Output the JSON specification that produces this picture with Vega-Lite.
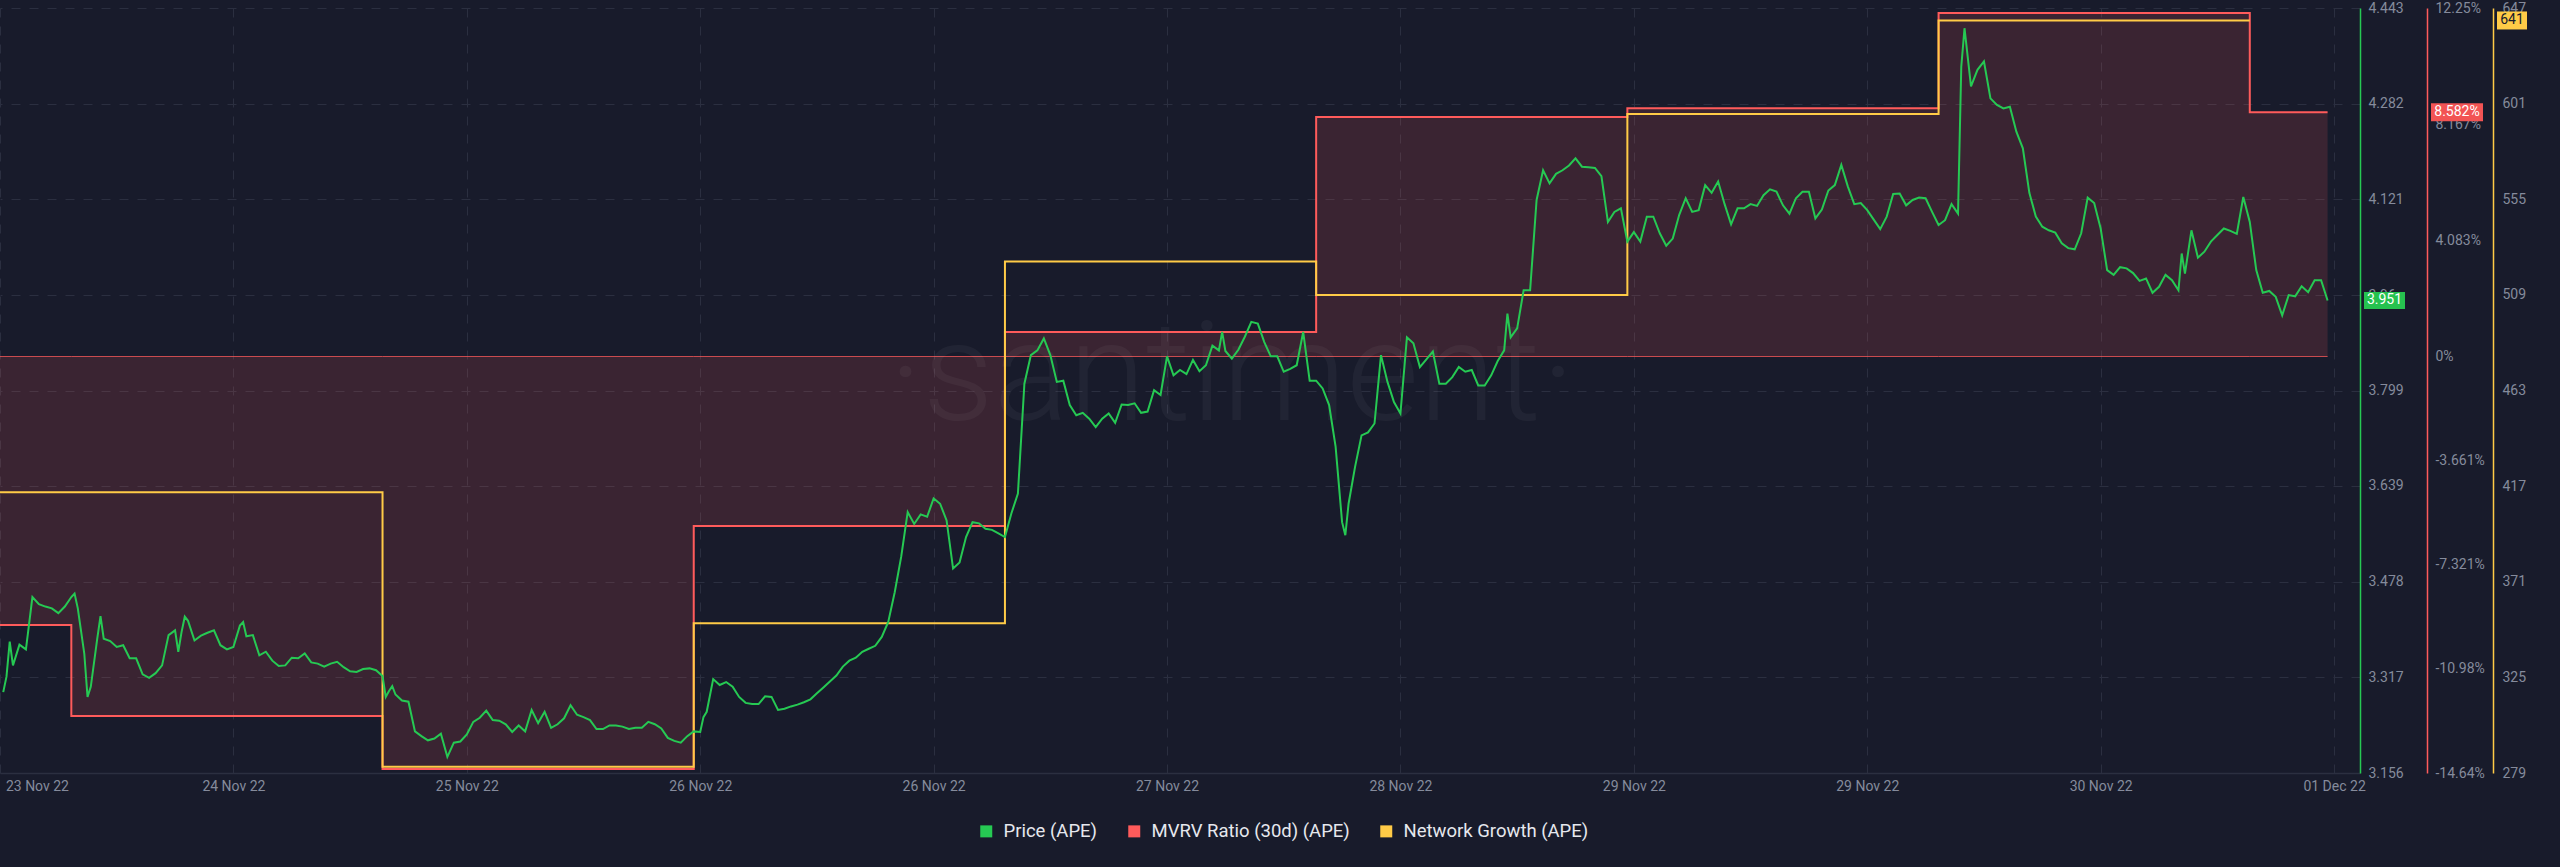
{
"$schema": "https://vega.github.io/schema/vega-lite/v6.json",
"width": 2360,
"height": 765,
"autosize": {"type": "none"},
"padding": {"left": 0, "top": 8, "right": 200, "bottom": 94},
"background": "#181b2b",
"config": {
  "view": {"stroke": null},
  "font": "Roboto",
  "axis": {"labelFont": "Roboto", "labelColor": "#858b9c", "labelFontSize": 14, "ticks": false}
},
"datasets": {
"mvrv": [
{"t":"2022-11-23T18:30Z","v":-9.44},{"t":"2022-11-24T00:00Z","v":-12.64},{"t":"2022-11-25T00:00Z","v":-14.5},{"t":"2022-11-26T00:00Z","v":-5.96},{"t":"2022-11-27T00:00Z","v":0.86},{"t":"2022-11-28T00:00Z","v":8.42},{"t":"2022-11-29T00:00Z","v":8.73},{"t":"2022-11-30T00:00Z","v":12.07},{"t":"2022-12-01T00:00Z","v":8.582},{"t":"2022-12-01T06:00Z","v":8.582}
],
"network": [
{"t":"2022-11-23T18:30Z","v":414},{"t":"2022-11-25T00:00Z","v":282},{"t":"2022-11-26T00:00Z","v":351},{"t":"2022-11-27T00:00Z","v":525},{"t":"2022-11-28T00:00Z","v":509},{"t":"2022-11-29T00:00Z","v":596},{"t":"2022-11-30T00:00Z","v":641},{"t":"2022-12-01T00:00Z","v":641}
],
"price": [
{"t":"2022-11-23T18:45Z","p":3.292},{"t":"2022-11-23T19:00Z","p":3.318},{"t":"2022-11-23T19:15Z","p":3.377},{"t":"2022-11-23T19:30Z","p":3.337},{"t":"2022-11-23T20:00Z","p":3.372},{"t":"2022-11-23T20:30Z","p":3.364},{"t":"2022-11-23T21:00Z","p":3.452},{"t":"2022-11-23T21:30Z","p":3.440},{"t":"2022-11-23T22:00Z","p":3.436},{"t":"2022-11-23T22:30Z","p":3.433},{"t":"2022-11-23T23:00Z","p":3.425},{"t":"2022-11-23T23:30Z","p":3.436},
{"t":"2022-11-24T00:00Z","p":3.452},{"t":"2022-11-24T00:15Z","p":3.458},{"t":"2022-11-24T00:30Z","p":3.433},{"t":"2022-11-24T01:00Z","p":3.357},{"t":"2022-11-24T01:15Z","p":3.284},{"t":"2022-11-24T01:30Z","p":3.301},{"t":"2022-11-24T02:00Z","p":3.382},{"t":"2022-11-24T02:15Z","p":3.420},{"t":"2022-11-24T02:30Z","p":3.382},{"t":"2022-11-24T03:00Z","p":3.378},{"t":"2022-11-24T03:30Z","p":3.368},{"t":"2022-11-24T04:00Z","p":3.371},{"t":"2022-11-24T04:30Z","p":3.349},{"t":"2022-11-24T05:00Z","p":3.349},{"t":"2022-11-24T05:30Z","p":3.322},{"t":"2022-11-24T06:00Z","p":3.316},{"t":"2022-11-24T06:30Z","p":3.324},{"t":"2022-11-24T07:00Z","p":3.337},{"t":"2022-11-24T07:30Z","p":3.388},{"t":"2022-11-24T08:00Z","p":3.396},{"t":"2022-11-24T08:15Z","p":3.360},{"t":"2022-11-24T08:30Z","p":3.393},{"t":"2022-11-24T08:45Z","p":3.419},{"t":"2022-11-24T09:00Z","p":3.412},{"t":"2022-11-24T09:30Z","p":3.379},{"t":"2022-11-24T10:00Z","p":3.387},{"t":"2022-11-24T10:30Z","p":3.392},{"t":"2022-11-24T11:00Z","p":3.396},{"t":"2022-11-24T11:30Z","p":3.371},{"t":"2022-11-24T12:00Z","p":3.364},{"t":"2022-11-24T12:30Z","p":3.368},{"t":"2022-11-24T13:00Z","p":3.404},{"t":"2022-11-24T13:15Z","p":3.410},{"t":"2022-11-24T13:30Z","p":3.386},{"t":"2022-11-24T14:00Z","p":3.388},{"t":"2022-11-24T14:30Z","p":3.354},{"t":"2022-11-24T15:00Z","p":3.360},{"t":"2022-11-24T15:30Z","p":3.345},{"t":"2022-11-24T16:00Z","p":3.336},{"t":"2022-11-24T16:30Z","p":3.337},{"t":"2022-11-24T17:00Z","p":3.350},{"t":"2022-11-24T17:30Z","p":3.349},{"t":"2022-11-24T18:00Z","p":3.357},{"t":"2022-11-24T18:30Z","p":3.342},{"t":"2022-11-24T19:00Z","p":3.340},{"t":"2022-11-24T19:30Z","p":3.335},{"t":"2022-11-24T20:00Z","p":3.340},{"t":"2022-11-24T20:30Z","p":3.343},{"t":"2022-11-24T21:00Z","p":3.334},{"t":"2022-11-24T21:30Z","p":3.327},{"t":"2022-11-24T22:00Z","p":3.326},{"t":"2022-11-24T22:30Z","p":3.331},{"t":"2022-11-24T23:00Z","p":3.332},{"t":"2022-11-24T23:30Z","p":3.329},
{"t":"2022-11-25T00:00Z","p":3.319},{"t":"2022-11-25T00:15Z","p":3.284},{"t":"2022-11-25T00:30Z","p":3.294},{"t":"2022-11-25T00:45Z","p":3.302},{"t":"2022-11-25T01:00Z","p":3.288},{"t":"2022-11-25T01:30Z","p":3.278},{"t":"2022-11-25T02:00Z","p":3.276},{"t":"2022-11-25T02:30Z","p":3.226},{"t":"2022-11-25T03:00Z","p":3.218},{"t":"2022-11-25T03:30Z","p":3.211},{"t":"2022-11-25T04:00Z","p":3.214},{"t":"2022-11-25T04:30Z","p":3.222},{"t":"2022-11-25T05:00Z","p":3.183},{"t":"2022-11-25T05:30Z","p":3.207},{"t":"2022-11-25T06:00Z","p":3.209},{"t":"2022-11-25T06:30Z","p":3.221},{"t":"2022-11-25T07:00Z","p":3.242},{"t":"2022-11-25T07:30Z","p":3.249},{"t":"2022-11-25T08:00Z","p":3.261},{"t":"2022-11-25T08:30Z","p":3.245},{"t":"2022-11-25T09:00Z","p":3.244},{"t":"2022-11-25T09:30Z","p":3.238},{"t":"2022-11-25T10:00Z","p":3.225},{"t":"2022-11-25T10:30Z","p":3.236},{"t":"2022-11-25T11:00Z","p":3.226},{"t":"2022-11-25T11:30Z","p":3.262},{"t":"2022-11-25T12:00Z","p":3.240},{"t":"2022-11-25T12:30Z","p":3.259},{"t":"2022-11-25T13:00Z","p":3.232},{"t":"2022-11-25T13:30Z","p":3.238},{"t":"2022-11-25T14:00Z","p":3.248},{"t":"2022-11-25T14:30Z","p":3.270},{"t":"2022-11-25T15:00Z","p":3.254},{"t":"2022-11-25T15:30Z","p":3.250},{"t":"2022-11-25T16:00Z","p":3.245},{"t":"2022-11-25T16:30Z","p":3.230},{"t":"2022-11-25T17:00Z","p":3.230},{"t":"2022-11-25T17:30Z","p":3.236},{"t":"2022-11-25T18:00Z","p":3.236},{"t":"2022-11-25T18:30Z","p":3.234},{"t":"2022-11-25T19:00Z","p":3.230},{"t":"2022-11-25T19:30Z","p":3.232},{"t":"2022-11-25T20:00Z","p":3.232},{"t":"2022-11-25T20:30Z","p":3.242},{"t":"2022-11-25T21:00Z","p":3.238},{"t":"2022-11-25T21:30Z","p":3.231},{"t":"2022-11-25T22:00Z","p":3.215},{"t":"2022-11-25T22:30Z","p":3.210},{"t":"2022-11-25T23:00Z","p":3.207},{"t":"2022-11-25T23:30Z","p":3.218},
{"t":"2022-11-26T00:00Z","p":3.226},{"t":"2022-11-26T00:30Z","p":3.225},{"t":"2022-11-26T00:45Z","p":3.250},{"t":"2022-11-26T01:00Z","p":3.259},{"t":"2022-11-26T01:30Z","p":3.314},{"t":"2022-11-26T02:00Z","p":3.304},{"t":"2022-11-26T02:30Z","p":3.309},{"t":"2022-11-26T03:00Z","p":3.301},{"t":"2022-11-26T03:30Z","p":3.284},{"t":"2022-11-26T04:00Z","p":3.274},{"t":"2022-11-26T04:30Z","p":3.272},{"t":"2022-11-26T05:00Z","p":3.272},{"t":"2022-11-26T05:30Z","p":3.285},{"t":"2022-11-26T06:00Z","p":3.284},{"t":"2022-11-26T06:30Z","p":3.262},{"t":"2022-11-26T07:00Z","p":3.264},{"t":"2022-11-26T07:30Z","p":3.268},{"t":"2022-11-26T08:00Z","p":3.271},{"t":"2022-11-26T08:30Z","p":3.275},{"t":"2022-11-26T09:00Z","p":3.28},{"t":"2022-11-26T09:30Z","p":3.29},{"t":"2022-11-26T10:00Z","p":3.30},{"t":"2022-11-26T10:30Z","p":3.31},{"t":"2022-11-26T11:00Z","p":3.32},{"t":"2022-11-26T11:30Z","p":3.335},{"t":"2022-11-26T12:00Z","p":3.345},{"t":"2022-11-26T12:30Z","p":3.35},{"t":"2022-11-26T13:00Z","p":3.36},{"t":"2022-11-26T13:30Z","p":3.365},{"t":"2022-11-26T14:00Z","p":3.37},{"t":"2022-11-26T14:30Z","p":3.385},{"t":"2022-11-26T15:00Z","p":3.41},{"t":"2022-11-26T15:30Z","p":3.46},{"t":"2022-11-26T16:00Z","p":3.52},{"t":"2022-11-26T16:30Z","p":3.595},{"t":"2022-11-26T17:00Z","p":3.575},{"t":"2022-11-26T17:30Z","p":3.591},{"t":"2022-11-26T18:00Z","p":3.587},{"t":"2022-11-26T18:30Z","p":3.618},{"t":"2022-11-26T19:00Z","p":3.609},{"t":"2022-11-26T19:30Z","p":3.581},{"t":"2022-11-26T20:00Z","p":3.50},{"t":"2022-11-26T20:30Z","p":3.51},{"t":"2022-11-26T21:00Z","p":3.553},{"t":"2022-11-26T21:30Z","p":3.578},{"t":"2022-11-26T22:00Z","p":3.576},{"t":"2022-11-26T22:30Z","p":3.567},{"t":"2022-11-26T23:00Z","p":3.565},{"t":"2022-11-26T23:30Z","p":3.559},
{"t":"2022-11-27T00:00Z","p":3.553},{"t":"2022-11-27T00:30Z","p":3.593},{"t":"2022-11-27T01:00Z","p":3.626},{"t":"2022-11-27T01:30Z","p":3.811},{"t":"2022-11-27T02:00Z","p":3.859},{"t":"2022-11-27T02:30Z","p":3.867},{"t":"2022-11-27T03:00Z","p":3.887},{"t":"2022-11-27T03:30Z","p":3.859},{"t":"2022-11-27T04:00Z","p":3.814},{"t":"2022-11-27T04:30Z","p":3.816},{"t":"2022-11-27T05:00Z","p":3.775},{"t":"2022-11-27T05:30Z","p":3.758},{"t":"2022-11-27T06:00Z","p":3.762},{"t":"2022-11-27T06:30Z","p":3.752},{"t":"2022-11-27T07:00Z","p":3.738},{"t":"2022-11-27T07:30Z","p":3.752},{"t":"2022-11-27T08:00Z","p":3.761},{"t":"2022-11-27T08:30Z","p":3.745},{"t":"2022-11-27T09:00Z","p":3.776},{"t":"2022-11-27T09:30Z","p":3.775},{"t":"2022-11-27T10:00Z","p":3.778},{"t":"2022-11-27T10:30Z","p":3.762},{"t":"2022-11-27T11:00Z","p":3.764},{"t":"2022-11-27T11:30Z","p":3.800},{"t":"2022-11-27T12:00Z","p":3.792},{"t":"2022-11-27T12:30Z","p":3.857},{"t":"2022-11-27T13:00Z","p":3.825},{"t":"2022-11-27T13:30Z","p":3.834},{"t":"2022-11-27T14:00Z","p":3.827},{"t":"2022-11-27T14:30Z","p":3.851},{"t":"2022-11-27T15:00Z","p":3.832},{"t":"2022-11-27T15:30Z","p":3.842},{"t":"2022-11-27T16:00Z","p":3.875},{"t":"2022-11-27T16:30Z","p":3.867},{"t":"2022-11-27T16:45Z","p":3.898},{"t":"2022-11-27T17:00Z","p":3.866},{"t":"2022-11-27T17:30Z","p":3.853},{"t":"2022-11-27T18:00Z","p":3.868},{"t":"2022-11-27T18:30Z","p":3.890},{"t":"2022-11-27T19:00Z","p":3.915},{"t":"2022-11-27T19:30Z","p":3.912},{"t":"2022-11-27T20:00Z","p":3.881},{"t":"2022-11-27T20:30Z","p":3.857},{"t":"2022-11-27T21:00Z","p":3.857},{"t":"2022-11-27T21:30Z","p":3.831},{"t":"2022-11-27T22:00Z","p":3.836},{"t":"2022-11-27T22:30Z","p":3.842},{"t":"2022-11-27T23:00Z","p":3.898},{"t":"2022-11-27T23:30Z","p":3.816},
{"t":"2022-11-28T00:00Z","p":3.816},{"t":"2022-11-28T00:30Z","p":3.803},{"t":"2022-11-28T01:00Z","p":3.775},{"t":"2022-11-28T01:30Z","p":3.705},{"t":"2022-11-28T02:00Z","p":3.578},{"t":"2022-11-28T02:15Z","p":3.556},{"t":"2022-11-28T02:30Z","p":3.609},{"t":"2022-11-28T03:00Z","p":3.671},{"t":"2022-11-28T03:30Z","p":3.724},{"t":"2022-11-28T04:00Z","p":3.729},{"t":"2022-11-28T04:30Z","p":3.744},{"t":"2022-11-28T05:00Z","p":3.859},{"t":"2022-11-28T05:30Z","p":3.814},{"t":"2022-11-28T06:00Z","p":3.780},{"t":"2022-11-28T06:30Z","p":3.761},{"t":"2022-11-28T07:00Z","p":3.889},{"t":"2022-11-28T07:30Z","p":3.879},{"t":"2022-11-28T08:00Z","p":3.839},{"t":"2022-11-28T08:30Z","p":3.852},{"t":"2022-11-28T09:00Z","p":3.865},{"t":"2022-11-28T09:30Z","p":3.811},{"t":"2022-11-28T10:00Z","p":3.811},{"t":"2022-11-28T10:30Z","p":3.822},{"t":"2022-11-28T11:00Z","p":3.839},{"t":"2022-11-28T11:30Z","p":3.831},{"t":"2022-11-28T12:00Z","p":3.834},{"t":"2022-11-28T12:30Z","p":3.808},{"t":"2022-11-28T13:00Z","p":3.808},{"t":"2022-11-28T13:30Z","p":3.825},{"t":"2022-11-28T14:00Z","p":3.849},{"t":"2022-11-28T14:30Z","p":3.867},{"t":"2022-11-28T14:45Z","p":3.929},{"t":"2022-11-28T15:00Z","p":3.889},{"t":"2022-11-28T15:30Z","p":3.904},{"t":"2022-11-28T16:00Z","p":3.968},{"t":"2022-11-28T16:30Z","p":3.968},{"t":"2022-11-28T17:00Z","p":4.120},{"t":"2022-11-28T17:30Z","p":4.170},{"t":"2022-11-28T18:00Z","p":4.148},{"t":"2022-11-28T18:30Z","p":4.164},{"t":"2022-11-28T19:00Z","p":4.170},{"t":"2022-11-28T19:30Z","p":4.178},{"t":"2022-11-28T20:00Z","p":4.190},{"t":"2022-11-28T20:30Z","p":4.176},{"t":"2022-11-28T21:00Z","p":4.175},{"t":"2022-11-28T21:30Z","p":4.174},{"t":"2022-11-28T22:00Z","p":4.160},{"t":"2022-11-28T22:30Z","p":4.083},{"t":"2022-11-28T23:00Z","p":4.100},{"t":"2022-11-28T23:30Z","p":4.106},
{"t":"2022-11-29T00:00Z","p":4.050},{"t":"2022-11-29T00:30Z","p":4.066},{"t":"2022-11-29T01:00Z","p":4.050},{"t":"2022-11-29T01:30Z","p":4.092},{"t":"2022-11-29T02:00Z","p":4.092},{"t":"2022-11-29T02:30Z","p":4.064},{"t":"2022-11-29T03:00Z","p":4.043},{"t":"2022-11-29T03:30Z","p":4.055},{"t":"2022-11-29T04:00Z","p":4.095},{"t":"2022-11-29T04:30Z","p":4.123},{"t":"2022-11-29T05:00Z","p":4.100},{"t":"2022-11-29T05:30Z","p":4.103},{"t":"2022-11-29T06:00Z","p":4.145},{"t":"2022-11-29T06:30Z","p":4.132},{"t":"2022-11-29T07:00Z","p":4.151},{"t":"2022-11-29T07:30Z","p":4.113},{"t":"2022-11-29T08:00Z","p":4.079},{"t":"2022-11-29T08:30Z","p":4.106},{"t":"2022-11-29T09:00Z","p":4.106},{"t":"2022-11-29T09:30Z","p":4.113},{"t":"2022-11-29T10:00Z","p":4.110},{"t":"2022-11-29T10:30Z","p":4.128},{"t":"2022-11-29T11:00Z","p":4.138},{"t":"2022-11-29T11:30Z","p":4.134},{"t":"2022-11-29T12:00Z","p":4.111},{"t":"2022-11-29T12:30Z","p":4.097},{"t":"2022-11-29T13:00Z","p":4.123},{"t":"2022-11-29T13:30Z","p":4.134},{"t":"2022-11-29T14:00Z","p":4.134},{"t":"2022-11-29T14:30Z","p":4.089},{"t":"2022-11-29T15:00Z","p":4.104},{"t":"2022-11-29T15:30Z","p":4.136},{"t":"2022-11-29T16:00Z","p":4.145},{"t":"2022-11-29T16:30Z","p":4.179},{"t":"2022-11-29T17:00Z","p":4.143},{"t":"2022-11-29T17:30Z","p":4.113},{"t":"2022-11-29T18:00Z","p":4.115},{"t":"2022-11-29T18:30Z","p":4.103},{"t":"2022-11-29T19:00Z","p":4.087},{"t":"2022-11-29T19:30Z","p":4.071},{"t":"2022-11-29T20:00Z","p":4.092},{"t":"2022-11-29T20:30Z","p":4.130},{"t":"2022-11-29T21:00Z","p":4.131},{"t":"2022-11-29T21:30Z","p":4.111},{"t":"2022-11-29T22:00Z","p":4.120},{"t":"2022-11-29T22:30Z","p":4.124},{"t":"2022-11-29T23:00Z","p":4.123},{"t":"2022-11-29T23:30Z","p":4.100},
{"t":"2022-11-30T00:00Z","p":4.078},{"t":"2022-11-30T00:30Z","p":4.086},{"t":"2022-11-30T01:00Z","p":4.113},{"t":"2022-11-30T01:30Z","p":4.097},{"t":"2022-11-30T01:45Z","p":4.344},{"t":"2022-11-30T02:00Z","p":4.409},{"t":"2022-11-30T02:30Z","p":4.311},{"t":"2022-11-30T03:00Z","p":4.339},{"t":"2022-11-30T03:30Z","p":4.353},{"t":"2022-11-30T04:00Z","p":4.291},{"t":"2022-11-30T04:30Z","p":4.280},{"t":"2022-11-30T05:00Z","p":4.274},{"t":"2022-11-30T05:30Z","p":4.277},{"t":"2022-11-30T06:00Z","p":4.235},{"t":"2022-11-30T06:30Z","p":4.207},{"t":"2022-11-30T07:00Z","p":4.132},{"t":"2022-11-30T07:30Z","p":4.092},{"t":"2022-11-30T08:00Z","p":4.075},{"t":"2022-11-30T08:30Z","p":4.069},{"t":"2022-11-30T09:00Z","p":4.065},{"t":"2022-11-30T09:30Z","p":4.047},{"t":"2022-11-30T10:00Z","p":4.039},{"t":"2022-11-30T10:30Z","p":4.037},{"t":"2022-11-30T11:00Z","p":4.064},{"t":"2022-11-30T11:30Z","p":4.124},{"t":"2022-11-30T12:00Z","p":4.115},{"t":"2022-11-30T12:30Z","p":4.072},{"t":"2022-11-30T13:00Z","p":4.002},{"t":"2022-11-30T13:30Z","p":3.994},{"t":"2022-11-30T14:00Z","p":4.007},{"t":"2022-11-30T14:30Z","p":4.005},{"t":"2022-11-30T15:00Z","p":3.997},{"t":"2022-11-30T15:30Z","p":3.984},{"t":"2022-11-30T16:00Z","p":3.988},{"t":"2022-11-30T16:30Z","p":3.964},{"t":"2022-11-30T17:00Z","p":3.974},{"t":"2022-11-30T17:30Z","p":3.994},{"t":"2022-11-30T18:00Z","p":3.985},{"t":"2022-11-30T18:30Z","p":3.968},{"t":"2022-11-30T18:45Z","p":4.030},{"t":"2022-11-30T19:00Z","p":3.996},{"t":"2022-11-30T19:30Z","p":4.069},{"t":"2022-11-30T20:00Z","p":4.023},{"t":"2022-11-30T20:30Z","p":4.033},{"t":"2022-11-30T21:00Z","p":4.050},{"t":"2022-11-30T21:30Z","p":4.061},{"t":"2022-11-30T22:00Z","p":4.072},{"t":"2022-11-30T22:30Z","p":4.068},{"t":"2022-11-30T23:00Z","p":4.063},{"t":"2022-11-30T23:30Z","p":4.125},
{"t":"2022-12-01T00:00Z","p":4.083},{"t":"2022-12-01T00:30Z","p":4.002},{"t":"2022-12-01T01:00Z","p":3.964},{"t":"2022-12-01T01:30Z","p":3.967},{"t":"2022-12-01T02:00Z","p":3.957},{"t":"2022-12-01T02:30Z","p":3.926},{"t":"2022-12-01T03:00Z","p":3.960},{"t":"2022-12-01T03:30Z","p":3.958},{"t":"2022-12-01T04:00Z","p":3.975},{"t":"2022-12-01T04:30Z","p":3.965},{"t":"2022-12-01T05:00Z","p":3.985},{"t":"2022-12-01T05:30Z","p":3.985},{"t":"2022-12-01T06:00Z","p":3.951}
],
"wm": [{"label": "·santiment·"}]
},
"layer": [
{
  "data": {"name": "mvrv"},
  "mark": {"type": "area", "interpolate": "step-after", "color": "#FF5B5B", "opacity": 0.15},
  "encoding": {
    "x": {"field": "t", "type": "temporal",
      "scale": {"type": "utc", "domain": [{"year": 2022, "month": 11, "date": 23, "hours": 18, "minutes": 30, "utc": true}, {"year": 2022, "month": 12, "date": 1, "hours": 8, "minutes": 30, "utc": true}]},
      "axis": {"orient": "bottom", "title": null, "labels": false, "ticks": false, "grid": true, "gridColor": "#2b2f40", "gridDash": [9, 9], "gridWidth": 1, "domain": true, "domainColor": "#2b2f40", "domainWidth": 1.5,
        "values": [
          {"year": 2022, "month": 11, "date": 23, "hours": 18, "minutes": 30, "utc": true},
          {"year": 2022, "month": 11, "date": 24, "hours": 12, "minutes": 30, "utc": true},
          {"year": 2022, "month": 11, "date": 25, "hours": 6, "minutes": 30, "utc": true},
          {"year": 2022, "month": 11, "date": 26, "hours": 0, "minutes": 30, "utc": true},
          {"year": 2022, "month": 11, "date": 26, "hours": 18, "minutes": 30, "utc": true},
          {"year": 2022, "month": 11, "date": 27, "hours": 12, "minutes": 30, "utc": true},
          {"year": 2022, "month": 11, "date": 28, "hours": 6, "minutes": 30, "utc": true},
          {"year": 2022, "month": 11, "date": 29, "hours": 0, "minutes": 30, "utc": true},
          {"year": 2022, "month": 11, "date": 29, "hours": 18, "minutes": 30, "utc": true},
          {"year": 2022, "month": 11, "date": 30, "hours": 12, "minutes": 30, "utc": true},
          {"year": 2022, "month": 12, "date": 1, "hours": 6, "minutes": 30, "utc": true}
        ]}},
    "y": {"field": "v", "type": "quantitative",
      "scale": {"domain": [-14.64, 12.25], "nice": false, "zero": false},
      "axis": {"orient": "right", "offset": 67, "title": null, "grid": false, "ticks": false, "labelPadding": 8, "domainColor": "#FF5B5B", "domainWidth": 1.5,
        "values": [12.25, 8.167, 4.083, 0, -3.661, -7.321, -10.98, -14.64], "labelExpr": "datum.value + '%'"}},
    "y2": {"datum": 0}
  }
},
{
  "data": {"name": "mvrv"},
  "mark": {"type": "line", "color": "#FF5B5B", "strokeWidth": 1, "opacity": 0.75},
  "encoding": {
    "x": {"field": "t", "type": "temporal", "axis": null},
    "y": {"datum": 0, "type": "quantitative", "scale": {"domain": [-14.64, 12.25], "nice": false, "zero": false}, "axis": null}
  }
},
{
  "data": {"name": "wm"},
  "mark": {"type": "text", "font": "Roboto", "fontWeight": 300, "fontSize": 140, "color": "#ffffff", "opacity": 0.04, "align": "center", "baseline": "alphabetic"},
  "encoding": {
    "x": {"datum": {"year": 2022, "month": 11, "date": 27, "hours": 17, "minutes": 30, "utc": true}, "type": "temporal", "axis": null},
    "y": {"datum": -2.23, "type": "quantitative", "scale": {"domain": [-14.64, 12.25], "nice": false, "zero": false}, "axis": null},
    "text": {"field": "label", "type": "nominal"}
  }
},
{
  "data": {"name": "mvrv"},
  "mark": {"type": "line", "interpolate": "step-after", "strokeWidth": 2},
  "encoding": {
    "x": {"field": "t", "type": "temporal", "axis": null},
    "y": {"field": "v", "type": "quantitative", "scale": {"domain": [-14.64, 12.25], "nice": false, "zero": false}, "axis": null},
    "color": {"datum": "MVRV Ratio (30d) (APE)", "type": "nominal",
      "scale": {"domain": ["Price (APE)", "MVRV Ratio (30d) (APE)", "Network Growth (APE)"], "range": ["#26C953", "#FF5B5B", "#FFCB47"]},
      "legend": {"title": null, "orient": "none", "legendX": 977, "legendY": 814, "direction": "horizontal", "symbolType": "square", "symbolSize": 144, "symbolStrokeWidth": 0, "labelFont": "Roboto", "labelFontSize": 18.5, "labelColor": "#e6e8ee", "labelOffset": 8, "labelLimit": 0, "columnPadding": 27, "padding": 0,
        "encode": {"symbols": {"update": {"fill": {"scale": "color", "field": "value"}, "strokeWidth": {"value": 0}, "opacity": {"value": 1}}}}}}
  }
},
{
  "data": {"name": "mvrv"},
  "transform": [{"window": [{"op": "row_number", "as": "rn"}], "sort": [{"field": "t", "order": "descending"}]}, {"filter": "datum.rn === 1"}],
  "mark": {"type": "point", "shape": "M71,-9H123V9H71Z", "size": 4, "filled": true, "color": "#F25454", "opacity": 1},
  "encoding": {
    "x": {"datum": {"year": 2022, "month": 12, "date": 1, "hours": 8, "minutes": 30, "utc": true}, "type": "temporal", "axis": null},
    "y": {"field": "v", "type": "quantitative", "scale": {"domain": [-14.64, 12.25], "nice": false, "zero": false}, "axis": null}
  }
},
{
  "data": {"name": "mvrv"},
  "transform": [{"window": [{"op": "row_number", "as": "rn"}], "sort": [{"field": "t", "order": "descending"}]}, {"filter": "datum.rn === 1"}, {"calculate": "datum.v + '%'", "as": "lbl"}],
  "mark": {"type": "text", "dx": 97, "align": "center", "baseline": "middle", "color": "#ffffff", "font": "Roboto", "fontSize": 14},
  "encoding": {
    "x": {"datum": {"year": 2022, "month": 12, "date": 1, "hours": 8, "minutes": 30, "utc": true}, "type": "temporal", "axis": null},
    "y": {"field": "v", "type": "quantitative", "scale": {"domain": [-14.64, 12.25], "nice": false, "zero": false}, "axis": null},
    "text": {"field": "lbl", "type": "nominal"}
  }
},
{
  "data": {"name": "network"},
  "mark": {"type": "line", "interpolate": "step-after", "strokeWidth": 2},
  "encoding": {
    "x": {"field": "t", "type": "temporal", "axis": null},
    "y": {"field": "v", "type": "quantitative",
      "scale": {"domain": [279, 647], "nice": false, "zero": false},
      "axis": {"orient": "right", "offset": 133, "title": null, "grid": false, "ticks": false, "labelPadding": 9, "domainColor": "#FFCB47", "domainWidth": 1.5,
        "values": [279, 325, 371, 417, 463, 509, 555, 601, 647], "format": "d"}},
    "color": {"datum": "Network Growth (APE)", "type": "nominal"}
  }
},
{
  "data": {"name": "network"},
  "transform": [{"window": [{"op": "row_number", "as": "rn"}], "sort": [{"field": "t", "order": "descending"}]}, {"filter": "datum.rn === 1"}],
  "mark": {"type": "point", "shape": "M137,-9H167V9H137Z", "size": 4, "filled": true, "color": "#FFCB47", "opacity": 1},
  "encoding": {
    "x": {"datum": {"year": 2022, "month": 12, "date": 1, "hours": 8, "minutes": 30, "utc": true}, "type": "temporal", "axis": null},
    "y": {"field": "v", "type": "quantitative", "scale": {"domain": [279, 647], "nice": false, "zero": false}, "axis": null}
  }
},
{
  "data": {"name": "network"},
  "transform": [{"window": [{"op": "row_number", "as": "rn"}], "sort": [{"field": "t", "order": "descending"}]}, {"filter": "datum.rn === 1"}],
  "mark": {"type": "text", "dx": 152, "align": "center", "baseline": "middle", "color": "#181b2b", "font": "Roboto", "fontSize": 14},
  "encoding": {
    "x": {"datum": {"year": 2022, "month": 12, "date": 1, "hours": 8, "minutes": 30, "utc": true}, "type": "temporal", "axis": null},
    "y": {"field": "v", "type": "quantitative", "scale": {"domain": [279, 647], "nice": false, "zero": false}, "axis": null},
    "text": {"field": "v", "type": "quantitative", "format": "d"}
  }
},
{
  "data": {"name": "price"},
  "mark": {"type": "line", "strokeWidth": 2},
  "encoding": {
    "x": {"field": "t", "type": "temporal",
      "axis": {"orient": "bottom", "title": null, "grid": false, "domain": false, "ticks": false, "labelPadding": 6, "labelFlush": false, "labelOverlap": false, "labelFontSize": 14, "labelColor": "#858b9c",
        "labelExpr": "utcFormat(datum.value, '%d %b %y')",
        "values": [
          {"year": 2022, "month": 11, "date": 23, "hours": 21, "minutes": 21, "utc": true},
          {"year": 2022, "month": 11, "date": 24, "hours": 12, "minutes": 30, "utc": true},
          {"year": 2022, "month": 11, "date": 25, "hours": 6, "minutes": 30, "utc": true},
          {"year": 2022, "month": 11, "date": 26, "hours": 0, "minutes": 30, "utc": true},
          {"year": 2022, "month": 11, "date": 26, "hours": 18, "minutes": 30, "utc": true},
          {"year": 2022, "month": 11, "date": 27, "hours": 12, "minutes": 30, "utc": true},
          {"year": 2022, "month": 11, "date": 28, "hours": 6, "minutes": 30, "utc": true},
          {"year": 2022, "month": 11, "date": 29, "hours": 0, "minutes": 30, "utc": true},
          {"year": 2022, "month": 11, "date": 29, "hours": 18, "minutes": 30, "utc": true},
          {"year": 2022, "month": 11, "date": 30, "hours": 12, "minutes": 30, "utc": true},
          {"year": 2022, "month": 12, "date": 1, "hours": 6, "minutes": 30, "utc": true}
        ]}},
    "y": {"field": "p", "type": "quantitative",
      "scale": {"domain": [3.156, 4.443], "nice": false, "zero": false},
      "axis": {"orient": "right", "offset": 0, "title": null, "grid": true, "gridColor": "#2b2f40", "gridDash": [9, 9], "gridWidth": 1, "ticks": false, "labelPadding": 8, "domainColor": "#26C953", "domainWidth": 1.5,
        "values": [3.156, 3.317, 3.478, 3.639, 3.799, 3.96, 4.121, 4.282, 4.443], "labelExpr": "'' + datum.value"}},
    "color": {"datum": "Price (APE)", "type": "nominal"}
  }
},
{
  "data": {"name": "price"},
  "transform": [{"window": [{"op": "row_number", "as": "rn"}], "sort": [{"field": "t", "order": "descending"}]}, {"filter": "datum.rn === 1"}],
  "mark": {"type": "point", "shape": "M4,-8.5H45V8.5H4Z", "size": 4, "filled": true, "color": "#26C24F", "opacity": 1},
  "encoding": {
    "x": {"datum": {"year": 2022, "month": 12, "date": 1, "hours": 8, "minutes": 30, "utc": true}, "type": "temporal", "axis": null},
    "y": {"field": "p", "type": "quantitative", "scale": {"domain": [3.156, 4.443], "nice": false, "zero": false}, "axis": null}
  }
},
{
  "data": {"name": "price"},
  "transform": [{"window": [{"op": "row_number", "as": "rn"}], "sort": [{"field": "t", "order": "descending"}]}, {"filter": "datum.rn === 1"}],
  "mark": {"type": "text", "dx": 24.5, "align": "center", "baseline": "middle", "color": "#ffffff", "font": "Roboto", "fontSize": 14},
  "encoding": {
    "x": {"datum": {"year": 2022, "month": 12, "date": 1, "hours": 8, "minutes": 30, "utc": true}, "type": "temporal", "axis": null},
    "y": {"field": "p", "type": "quantitative", "scale": {"domain": [3.156, 4.443], "nice": false, "zero": false}, "axis": null},
    "text": {"field": "p", "type": "quantitative", "format": ".3f"}
  }
}
],
"resolve": {"scale": {"y": "independent"}, "axis": {"x": "independent", "y": "independent"}}
}
